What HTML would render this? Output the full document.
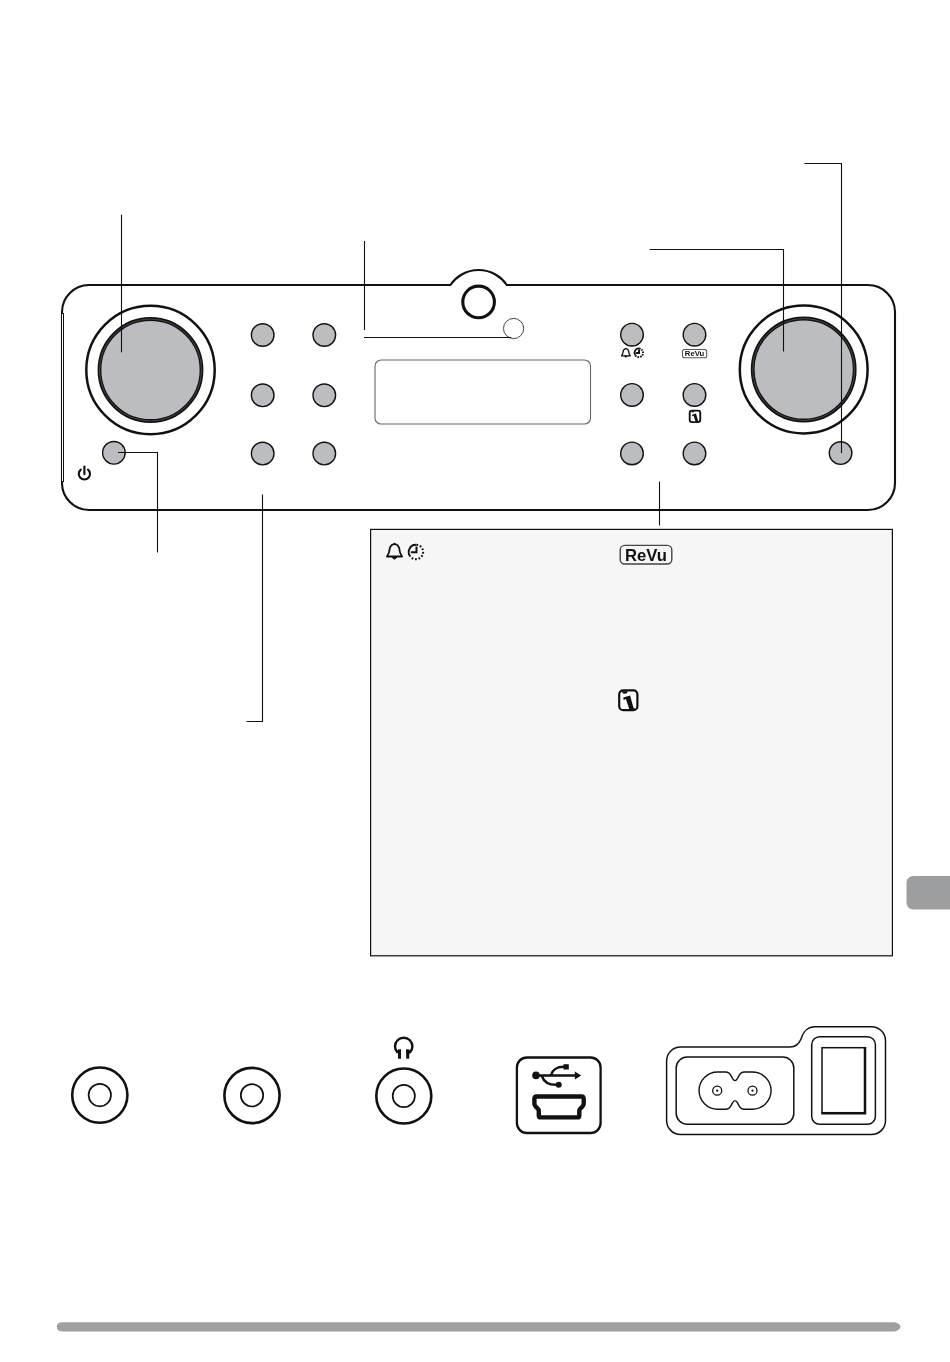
<!DOCTYPE html>
<html><head><meta charset="utf-8"><title>Controls and connections</title>
<style>
html,body{margin:0;padding:0;background:#fff;}
body{width:950px;height:1362px;overflow:hidden;position:relative;font-family:"Liberation Sans",sans-serif;}
svg{position:absolute;left:0;top:0;}
text{-webkit-font-smoothing:antialiased;}
</style></head><body>
<svg width="950" height="1362" viewBox="0 0 950 1362">
<!-- PANEL -->
<g fill="none" stroke="#111">
  <path d="M89 285 L450.4 285 A34.1 34.1 0 0 1 506.8 285 L868 285 A27 27 0 0 1 895 312 L895 483 A27 27 0 0 1 868 510 L89 510 A27 27 0 0 1 62 483 L62 312 A27 27 0 0 1 89 285 Z" stroke-width="2.1"/>
  <path d="M62.5 314 V481" stroke="#fff" stroke-width="1"/>
  <path d="M63.5 313 V482" stroke-width="1"/>
</g>
<!-- knobs -->
<g stroke="#111">
  <circle cx="150.5" cy="370" r="64.2" fill="none" stroke-width="2.5"/>
  <circle cx="150.5" cy="370" r="51" fill="#bcbdc0" stroke-width="3.8"/>
  <circle cx="803.7" cy="369.5" r="63.9" fill="none" stroke-width="2.5"/>
  <circle cx="803.7" cy="369.5" r="51" fill="#bcbdc0" stroke-width="3.8"/>
</g>
<g fill="none" stroke="#6a6a6a" stroke-width="0.6">
  <circle cx="150.5" cy="370" r="51"/>
  <circle cx="803.7" cy="369.5" r="51"/>
</g>
<!-- buttons -->
<g fill="#bcbdc0" stroke="#111" stroke-width="1.4">
  <circle cx="262.7" cy="335" r="11.3"/>
  <circle cx="324.3" cy="335" r="11.3"/>
  <circle cx="262.7" cy="395.3" r="11.3"/>
  <circle cx="324.3" cy="395.3" r="11.3"/>
  <circle cx="262.7" cy="453.6" r="11.3"/>
  <circle cx="324.3" cy="453.6" r="11.3"/>
  <circle cx="632" cy="334.7" r="11.3"/>
  <circle cx="694.5" cy="334.7" r="11.3"/>
  <circle cx="632" cy="394.9" r="11.3"/>
  <circle cx="694.5" cy="394.9" r="11.3"/>
  <circle cx="632" cy="453.4" r="11.3"/>
  <circle cx="694.5" cy="453.4" r="11.3"/>
  <circle cx="113.9" cy="452.8" r="11.3"/>
  <circle cx="840.6" cy="453.1" r="11.3"/>
</g>
<!-- sensor + led -->
<circle cx="478.6" cy="301.9" r="15.8" fill="#fff" stroke="#111" stroke-width="3.1"/>
<circle cx="513.6" cy="328.5" r="10.1" fill="#fff" stroke="#444" stroke-width="1"/>
<!-- display -->
<rect x="375" y="360" width="215.5" height="64" rx="6" fill="#fff" stroke="#666" stroke-width="1.1"/>
<!-- callout lines -->
<g fill="none" stroke="#111" stroke-width="1.1">
  <path d="M121.5 214.7 V352.4"/>
  <path d="M364.5 241 V330"/>
  <path d="M364 337.5 H511"/>
  <path d="M649.7 249.5 H783.5 V351.5"/>
  <path d="M804.4 163.5 H841.5 V453"/>
  <path d="M118 452.5 H157.5 V552.6"/>
  <path d="M262.5 494.5 V721.5 H246.6"/>
  <path d="M659.5 481.6 V525.5"/>
</g>
<!-- power icon -->
<g fill="none" stroke="#111" stroke-width="2.1" stroke-linecap="round">
  <path d="M80.8 469.6 A5.6 5.6 0 1 0 88 469.6"/>
  <path d="M84.4 466.6 V474.3"/>
</g>
<!-- panel labels -->
<g transform="translate(621 348) scale(0.58)"><path d="M8.5 0.6 L8.9 1.2 C12.4 1.8 13.4 4.6 13.7 8 C13.9 10.6 15.3 12 16.1 13.5 L0.9 13.5 C1.7 12 3.1 10.6 3.3 8 C3.6 4.6 4.6 1.8 8.1 1.2 Z" fill="none" stroke="#111" stroke-width="2.2" stroke-linejoin="round"/>
    <path d="M6.0 14 Q8.5 18.2 11 14 Z" fill="#111" stroke="#111" stroke-width="1.2"/></g>
<g transform="translate(634 348) scale(0.6)"><path d="M2.1 12.2 A7.2 7.2 0 0 1 8.5 0.8" fill="none" stroke="#111" stroke-width="3.0"/>
    <path d="M8.5 0.8 A7.2 7.2 0 1 1 2.1 12.2" fill="none" stroke="#111" stroke-width="3.2" stroke-dasharray="2.6 1.6"/>
    <path d="M8.5 2.4 V8.3 H2.9" fill="none" stroke="#111" stroke-width="3.2"/></g>
<g transform="translate(682 349) scale(0.475 0.46)" opacity="0.999">
  <rect x="1" y="1" width="51" height="18" rx="4.5" fill="#fff" stroke="#555" stroke-width="2.2"/>
  <text x="6" y="16" font-family="Liberation Sans, sans-serif" font-weight="bold" font-size="16.5" fill="#111" textLength="41" lengthAdjust="spacingAndGlyphs" style="filter:grayscale(1)">ReVu</text>
</g>
<g transform="translate(689 410) scale(0.58)"><rect x="1.2" y="1.2" width="18.2" height="19.8" rx="4" fill="#fff" stroke="#111" stroke-width="3.2"/>
    <path d="M4 2 A2.8 2.5 0 0 0 9.6 2 Z" fill="#111"/>
    <path d="M5.3 8.4 L12.1 6.2 L15.4 18.3 L17.8 20.2 L11.4 20.2 L7.9 9.9 L5.6 10.8 Z" fill="#111"/></g>
<!-- INFO BOX -->
<rect x="370.6" y="529.4" width="521.8" height="426.4" fill="#f6f6f6" stroke="#111" stroke-width="1.2"/>
<g transform="translate(386 543)"><path d="M8.5 0.6 L8.9 1.2 C12.4 1.8 13.4 4.6 13.7 8 C13.9 10.6 15.3 12 16.1 13.5 L0.9 13.5 C1.7 12 3.1 10.6 3.3 8 C3.6 4.6 4.6 1.8 8.1 1.2 Z" fill="none" stroke="#111" stroke-width="1.8" stroke-linejoin="round"/>
    <path d="M6.0 14 Q8.5 18.2 11 14 Z" fill="#111" stroke="#111" stroke-width="1.0"/></g>
<g transform="translate(408 544)"><path d="M2.1 12.2 A7.2 7.2 0 0 1 8.5 0.8" fill="none" stroke="#111" stroke-width="1.9"/>
    <path d="M8.5 0.8 A7.2 7.2 0 1 1 2.1 12.2" fill="none" stroke="#111" stroke-width="2.1" stroke-dasharray="1.7 1.8"/>
    <path d="M8.5 2.4 V8.3 H2.9" fill="none" stroke="#111" stroke-width="2.0"/></g>
<g transform="translate(619.5 544.7)" opacity="0.999">
  <rect x="0.7" y="0.7" width="51.6" height="18.6" rx="4.5" fill="none" stroke="#444" stroke-width="1.4"/>
  <text x="5.4" y="16" font-family="Liberation Sans, sans-serif" font-weight="bold" font-size="16.5" fill="#111" textLength="42" lengthAdjust="spacingAndGlyphs" style="filter:grayscale(1)">ReVu</text>
</g>
<g transform="translate(618 689.2)"><rect x="1.2" y="1.2" width="18.2" height="19.8" rx="4" fill="#fff" stroke="#111" stroke-width="2.2"/>
    <path d="M4 2 A2.8 2.5 0 0 0 9.6 2 Z" fill="#111"/>
    <path d="M5.3 8.4 L12.1 6.2 L15.4 18.3 L17.8 20.2 L11.4 20.2 L7.9 9.9 L5.6 10.8 Z" fill="#111"/></g>
<!-- side tab -->
<path d="M913 876 H950 V909.4 H913 A6.5 6.5 0 0 1 906.5 902.9 V882.5 A6.5 6.5 0 0 1 913 876 Z" fill="#9d9ea0"/>
<!-- JACKS -->
<g fill="none" stroke="#111">
  <circle cx="99.8" cy="1095.1" r="27.6" stroke-width="2.6"/>
  <circle cx="99.8" cy="1095.1" r="11.2" stroke-width="1.7"/>
  <circle cx="252" cy="1095.5" r="27.6" stroke-width="2.6"/>
  <circle cx="252" cy="1095.3" r="11.2" stroke-width="1.7"/>
  <circle cx="403.8" cy="1096" r="27.5" stroke-width="2.6"/>
  <circle cx="403.8" cy="1096" r="11.1" stroke-width="1.7"/>
</g>
<!-- headphones -->
<path d="M397.6 1052.6 A8.7 8.7 0 1 1 409.8 1052.6" fill="none" stroke="#111" stroke-width="2.4"/>
<rect x="398" y="1049.4" width="3" height="9.3" fill="#111"/>
<rect x="406.2" y="1049.4" width="3" height="9.3" fill="#111"/>
<path d="M396.3 1050.6 L401 1049.4 L401 1053.5 L398.2 1054.5 Z" fill="#111"/>
<path d="M411.2 1050.6 L406.2 1049.4 L406.2 1053.5 L409.2 1054.5 Z" fill="#111"/>
<!-- USB -->
<rect x="516.9" y="1057.5" width="83.7" height="75.5" rx="10" fill="none" stroke="#111" stroke-width="2.3"/>
<g fill="none" stroke="#111" stroke-width="2.5">
  <path d="M537 1075.4 H576"/>
  <path d="M551 1075.4 C552.5 1070 555.5 1066.8 564 1066.8"/>
  <path d="M541.8 1075.8 C543.5 1081 547 1084.8 556 1084.8"/>
</g>
<circle cx="536" cy="1075.4" r="3.8" fill="#111"/>
<circle cx="558.7" cy="1084.8" r="3" fill="#111"/>
<rect x="563.5" y="1064.2" width="5.3" height="5.3" fill="#111"/>
<path d="M574.8 1071.4 L581.2 1075.4 L574.8 1079.4 Z" fill="#111"/>
<path d="M536.5 1096.5 H581.5 Q583.7 1096.5 583.7 1099 V1104 Q583.7 1105.5 582 1107 L580 1109 Q579.3 1110 579.3 1111 V1115.4 Q579.3 1117.4 577.3 1117.4 H540.8 Q538.8 1117.4 538.8 1115.4 V1111 Q538.8 1110 538.1 1109 L536.1 1107 Q534.4 1105.5 534.4 1104 V1099 Q534.4 1096.5 536.5 1096.5 Z" fill="none" stroke="#111" stroke-width="4.4" stroke-linejoin="round"/>
<!-- POWER -->
<g fill="none" stroke="#111" stroke-width="1.5">
  <path d="M681 1047 H790 C796 1047 799 1044 801 1039 C804 1030 808 1026.7 815 1026.7 H871.5 A14 14 0 0 1 885.5 1040.7 V1120.5 A14 14 0 0 1 871.5 1134.5 H680.6 A14 14 0 0 1 666.6 1120.5 V1061 A14 14 0 0 1 681 1047 Z"/>
  <rect x="676.2" y="1057.1" width="117.6" height="67.2" rx="11"/>
  <rect x="811.7" y="1036.7" width="63.7" height="87.6" rx="8"/>
</g>
<g fill="none" stroke="#111" stroke-width="1.4">
  <path d="M717.6 1072 H725.8 C728.3 1072 729.6 1073 731 1075.6 L732.5 1078.4 Q735 1082.8 737.5 1078.4 L739 1075.6 C740.4 1073 741.7 1072 744.2 1072 H752.5 A18.6 18.6 0 0 1 752.5 1109.2 H744.2 C741.7 1109.2 740.4 1108.2 739 1105.6 L737.5 1102.8 Q735 1098.4 732.5 1102.8 L731 1105.6 C729.6 1108.2 728.3 1109.2 725.8 1109.2 H717.6 A18.6 18.6 0 0 1 717.6 1072 Z"/>
  <circle cx="717.2" cy="1090.7" r="4.5" stroke-width="1.3"/>
  <circle cx="752.5" cy="1090.7" r="4.5" stroke-width="1.3"/>
</g>
<circle cx="717.2" cy="1090.7" r="1.1" fill="#111"/>
<circle cx="752.5" cy="1090.7" r="1.1" fill="#111"/>
<rect x="822" y="1047.7" width="43" height="65" fill="none" stroke="#111" stroke-width="1.5"/>
<path d="M865 1047 V1113.3 H821.3" fill="none" stroke="#111" stroke-width="2.5"/>
<!-- bottom bar -->
<path d="M62 1322.2 H895 Q900.5 1324 900.5 1326.8 Q900.5 1329.6 895 1331.4 H62 Q56.8 1331.4 56.8 1326.8 Q56.8 1322.2 62 1322.2 Z" fill="#a0a0a0"/>
</svg>
</body></html>
